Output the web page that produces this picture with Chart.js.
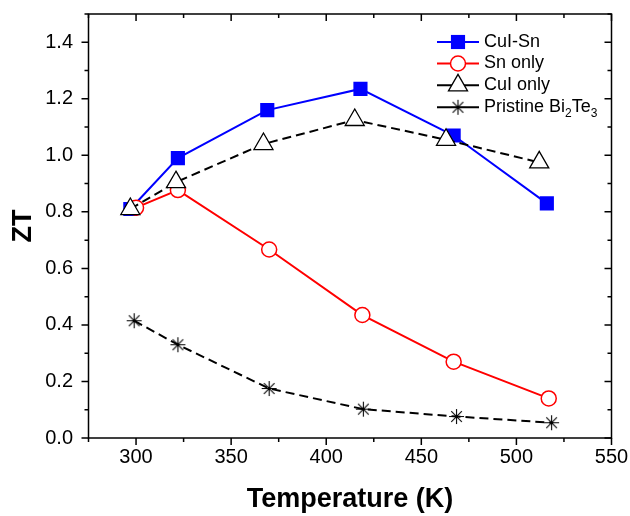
<!DOCTYPE html>
<html>
<head>
<meta charset="utf-8">
<script src="https://cdn.jsdelivr.net/npm/chart.js@4/dist/chart.umd.min.js"></script>
<style>
  html, body { margin: 0; padding: 0; background: #fff; }
  #wrap { width: 630px; height: 516px; }
</style>
</head>
<body>
<div id="wrap"><canvas id="ztChart" width="630" height="516"></canvas></div>
<script>
const FONT = '"Liberation Sans", Arial, Helvetica, sans-serif';

const xTicks = [300, 350, 400, 450, 500, 550];
const yTicks = [0.0, 0.2, 0.4, 0.6, 0.8, 1.0, 1.2, 1.4];

const tempCuISn = [297, 322, 369, 418, 467, 516];
const ztCuISn   = [0.81, 0.99, 1.16, 1.235, 1.07, 0.83];

const tempSn = [300, 322, 370, 419, 467, 517];
const ztSn   = [0.815, 0.877, 0.667, 0.435, 0.27, 0.14];

const tempCuI = [297, 321, 367, 415, 463, 512];
const ztCuI   = [0.81, 0.905, 1.04, 1.125, 1.055, 0.975];

const tempPristine = [299, 322, 370, 419.5, 468.5, 518.5];
const ztPristine   = [0.415, 0.33, 0.175, 0.102, 0.076, 0.054];

function pairs(xs, ys) {
    return xs.map((x, i) => ({ x: x, y: ys[i] }));
}

// asterisk marker with a small dot in the middle
function makeStar(r) {
    const c = document.createElement('canvas');
    const s = Math.ceil(r * 2 + 4);
    c.width = s; c.height = s;
    const g = c.getContext('2d');
    const m = s / 2;
    g.strokeStyle = '#000';
    g.lineWidth = 1.1;
    g.beginPath();
    for (let i = 0; i < 4; i++) {
        const a = i * Math.PI / 4;
        g.moveTo(m - Math.cos(a) * r, m - Math.sin(a) * r);
        g.lineTo(m + Math.cos(a) * r, m + Math.sin(a) * r);
    }
    g.stroke();
    g.fillStyle = '#000';
    g.beginPath();
    g.arc(m, m, 1.7, 0, Math.PI * 2);
    g.fill();
    return c;
}
const starImg = makeStar(7.5);

const datasets = [
    {
        label: 'CuI-Sn',
        data: pairs(tempCuISn, ztCuISn),
        borderColor: '#0000ff', borderWidth: 2,
        pointStyle: 'rect', pointRadius: 10,
        pointBackgroundColor: '#0000ff', pointBorderColor: '#0000ff', pointBorderWidth: 0,
        order: 4
    },
    {
        label: 'Sn only',
        data: pairs(tempSn, ztSn),
        borderColor: '#ff0000', borderWidth: 2,
        pointStyle: 'circle', pointRadius: 7.5,
        pointBackgroundColor: '#fff', pointBorderColor: '#ff0000', pointBorderWidth: 1.5,
        order: 3
    },
    {
        label: 'CuI only',
        data: pairs(tempCuI, ztCuI),
        borderColor: '#000', borderWidth: 2, borderDash: [9, 5],
        pointStyle: 'triangle', pointRadius: 11,
        pointBackgroundColor: '#fff', pointBorderColor: '#000', pointBorderWidth: 1.3,
        order: 2
    },
    {
        label: 'Pristine Bi2Te3',
        data: pairs(tempPristine, ztPristine),
        borderColor: '#000', borderWidth: 2, borderDash: [9, 5],
        pointStyle: starImg, pointRadius: 7,
        order: 1
    }
];

const framePlugin = {
    id: 'frame',
    afterDraw(chart) {
        const { ctx, chartArea: a, scales: { x, y } } = chart;
        ctx.save();
        ctx.strokeStyle = '#000';
        ctx.lineWidth = 1.5;
        ctx.strokeRect(a.left, a.top, a.right - a.left, a.bottom - a.top);
        ctx.beginPath();
        for (let v = 275; v <= 550; v += 25) {
            const px = x.getPixelForValue(v);
            const len = v % 50 === 0 ? 7 : 4;
            ctx.moveTo(px, a.bottom); ctx.lineTo(px, a.bottom + len);
            ctx.moveTo(px, a.top); ctx.lineTo(px, a.top + len);
        }
        for (let i = 0; i <= 15; i++) {
            const py = y.getPixelForValue(i / 10);
            const len = i % 2 === 0 ? 7 : 4;
            ctx.moveTo(a.left, py); ctx.lineTo(a.left - len, py);
            ctx.moveTo(a.right, py); ctx.lineTo(a.right - len, py);
        }
        ctx.stroke();
        ctx.restore();
    }
};

function legendMarker(ctx, ds, cx, cy) {
    const r = ds.pointRadius;
    ctx.save();
    ctx.setLineDash([]);
    ctx.fillStyle = ds.pointBackgroundColor || '#000';
    ctx.strokeStyle = ds.pointBorderColor || '#000';
    ctx.lineWidth = ds.pointBorderWidth || 1;
    ctx.beginPath();
    if (ds.pointStyle === 'rect') {
        const s = r * Math.SQRT1_2;
        ctx.rect(cx - s, cy - s, 2 * s, 2 * s);
        ctx.fill();
    } else if (ds.pointStyle === 'circle') {
        ctx.arc(cx, cy, r, 0, Math.PI * 2);
        ctx.fill(); ctx.stroke();
    } else if (ds.pointStyle === 'triangle') {
        for (let k = 0; k < 3; k++) {
            const ang = k * 2 * Math.PI / 3;
            const px = cx + Math.sin(ang) * r, py = cy - Math.cos(ang) * r;
            if (k === 0) ctx.moveTo(px, py); else ctx.lineTo(px, py);
        }
        ctx.closePath();
        ctx.fill(); ctx.stroke();
    } else {
        ctx.drawImage(ds.pointStyle, cx - ds.pointStyle.width / 2, cy - ds.pointStyle.height / 2);
    }
    ctx.restore();
}

const legendPlugin = {
    id: 'sideLegend',
    afterDatasetsDraw(chart) {
        const ctx = chart.ctx;
        const x0 = 437, x1 = 479, mx = 458, tx = 484;
        const rowY = [42, 63.5, 85.3, 107.3];
        ctx.save();
        chart.data.datasets.forEach((ds, i) => {
            const yy = rowY[i];
            ctx.strokeStyle = ds.borderColor;
            ctx.lineWidth = 2;
            ctx.beginPath();
            ctx.moveTo(x0, yy); ctx.lineTo(x1, yy);
            ctx.stroke();
            legendMarker(ctx, ds, mx, yy);
            ctx.fillStyle = '#000';
            ctx.textBaseline = 'middle';
            ctx.textAlign = 'left';
            if (ds.label === 'Pristine Bi2Te3') {
                const parts = [['Pristine Bi', 0], ['2', 1], ['Te', 0], ['3', 1]];
                let cx = tx;
                parts.forEach(p => {
                    ctx.font = (p[1] ? '12px ' : '18px ') + FONT;
                    ctx.fillText(p[0], cx, yy + (p[1] ? 6 : 0));
                    cx += ctx.measureText(p[0]).width;
                });
            } else {
                ctx.font = '18px ' + FONT;
                ctx.fillText(ds.label, tx, yy);
            }
        });
        ctx.restore();
    }
};

const ctx = document.getElementById('ztChart').getContext('2d');
new Chart(ctx, {
    type: 'line',
    data: { datasets: datasets },
    options: {
        responsive: false,
        animation: false,
        layout: { padding: { top: 14, right: 18.5, left: 0, bottom: 0 } },
        plugins: { legend: { display: false }, tooltip: { enabled: false } },
        scales: {
            x: {
                type: 'linear', min: 275, max: 550,
                afterBuildTicks: s => { s.ticks = xTicks.map(v => ({ value: v })); },
                afterFit: s => { s.height = 78; s.paddingLeft = 0; s.paddingRight = 0; },
                grid: { display: false, drawTicks: false },
                border: { display: false },
                ticks: {
                    padding: 7, color: '#000', maxRotation: 0, autoSkip: false,
                    font: { family: FONT, size: 20 },
                    callback: v => String(v)
                },
                title: {
                    display: true, text: 'Temperature (K)', color: '#000',
                    font: { family: FONT, size: 27, weight: 'bold' },
                    padding: { top: 0, bottom: 0 }
                }
            },
            y: {
                min: 0, max: 1.5,
                afterBuildTicks: s => { s.ticks = yTicks.map(v => ({ value: v })); },
                afterFit: s => { s.width = 88.5; s.paddingTop = 0; s.paddingBottom = 0; },
                grid: { display: false, drawTicks: false },
                border: { display: false },
                ticks: {
                    padding: 15.5, color: '#000', autoSkip: false,
                    font: { family: FONT, size: 20 },
                    callback: v => v.toFixed(1)
                },
                title: {
                    display: true, text: 'ZT', color: '#000',
                    font: { family: FONT, size: 27, weight: 'bold' },
                    padding: { top: 7, bottom: 0 }
                }
            }
        }
    },
    plugins: [framePlugin, legendPlugin]
});
</script>
</body>
</html>
